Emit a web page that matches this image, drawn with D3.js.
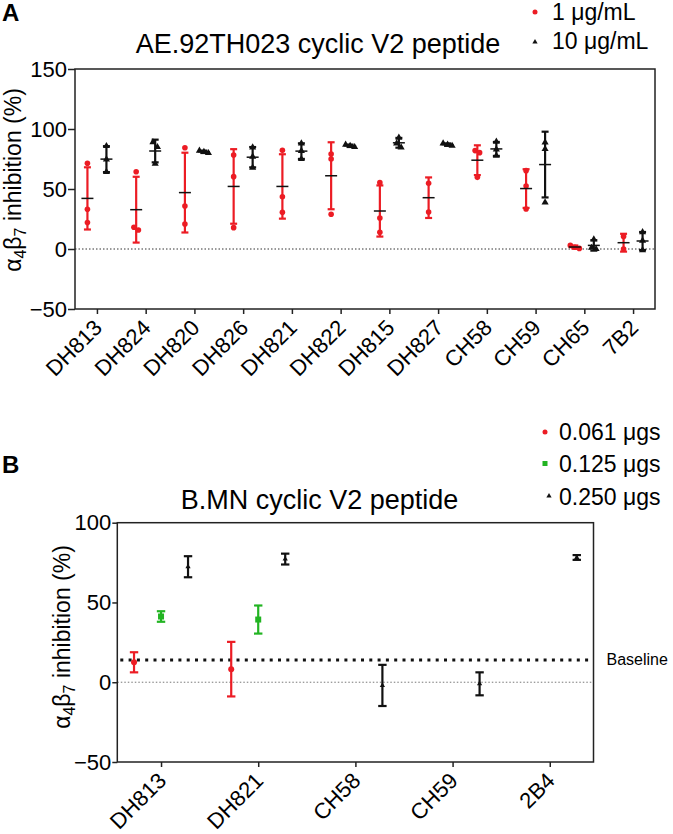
<!DOCTYPE html>
<html><head><meta charset="utf-8">
<script src="https://cdn.jsdelivr.net/npm/d3@7"></script>
<style>
body{margin:0;background:#fff}
svg{display:block}
text{font-family:"Liberation Sans",Arial,Helvetica,sans-serif;fill:#000}
</style>
</head><body>
<svg id="c" width="673" height="834"></svg>
<script>
// ---------- Panel A data ----------
const categoriesA = ["DH813","DH824","DH820","DH826","DH821","DH822","DH815","DH827","CH58","CH59","CH65","7B2"];
const seriesA_1ug = [
  [71.4, 33.1, 22.0],
  [64.4, 18.1, 15.8],
  [84.4, 35.8, 20.8],
  [78.3, 60.3, 17.8],
  [82.2, 43.6, 30.6],
  [79.2, 75.0, 28.9],
  [55.3, 25.8, 13.9],
  [54.7, 30.8],
  [82.0, 80.3, 59.7],
  [65.3, 52.5, 33.3],
  [3.0, 1.5, 0.5],
  [10.5, 0.0]
];
const seriesA_10ug = [
  [85.8, 74.7, 64.2],
  [89.0, 85.0, 71.0],
  [82.0, 81.0, 80.0],
  [84.7, 77.0, 67.8],
  [88.0, 81.7, 75.0],
  [87.0, 86.0, 85.0],
  [92.8, 88.0, 84.7],
  [88.0, 87.0, 86.0],
  [89.4, 83.0, 77.8],
  [88.9, 83.3, 38.9],
  [8.0, 1.0, 0.0],
  [14.0, 7.0, -1.0]
];
const ticksA = [-50, 0, 50, 100, 150];
const legendA = ["1 μg/mL", "10 μg/mL"];

// ---------- Panel B data ----------
const categoriesB = ["DH813","DH821","CH58","CH59","2B4"];
const meanB_061 = [12.5, 8.2, null, null, null];
const errB_061  = [6.3, 17.1, null, null, null];
const meanB_125 = [41.2, 39.3, null, null, null];
const errB_125  = [3.3, 8.8, null, null, null];
const meanB_250 = [72.4, 77.2, -2.0, -1.0, 78.2];
const errB_250  = [6.6, 3.4, 12.9, 7.2, 1.5];
const ticksB = [-50, 0, 50, 100];
const baselineB = 14;
const legendB = ["0.061 μgs", "0.125 μgs", "0.250 μgs"];

const RED = "#ec1c24", GREEN = "#22b422", BLACK = "#111";
const svg = d3.select("#c");

function yLabel(g, x, y) {
  const t = g.append("text").attr("transform", `translate(${x},${y}) rotate(-90)`)
    .attr("text-anchor", "middle").style("font-size", "23px");
  t.append("tspan").text("α");
  t.append("tspan").attr("dy", 5).style("font-size", "16px").text("4");
  t.append("tspan").attr("dy", -5).text("β");
  t.append("tspan").attr("dy", 5).style("font-size", "16px").text("7");
  t.append("tspan").attr("dy", -5).text(" inhibition (%)");
}

function frame(g, x0, x1, y0, y1) {
  g.append("rect").attr("x", x0).attr("y", y0).attr("width", x1 - x0).attr("height", y1 - y0)
    .attr("fill", "none").attr("stroke", "#222").attr("stroke-width", 1.5);
}

// ================= PANEL A =================
(function(){
  const L = 75, R = 655, T = 69, B = 309;
  const x = d3.scalePoint().domain(categoriesA).range([L, R]).padding(0.45);
  const y = d3.scaleLinear().domain([-50, 150]).range([B, T]);
  const g = svg.append("g");

  // zero dotted line
  g.append("line").attr("x1", L).attr("x2", R).attr("y1", y(0)).attr("y2", y(0))
    .attr("stroke", "#333").attr("stroke-width", 1).attr("stroke-dasharray", "1.5,2");

  frame(g, L, R, T, B);

  const ya = g.append("g").attr("transform", `translate(${L},0)`)
    .call(d3.axisLeft(y).tickValues(ticksA).tickSize(7).tickSizeOuter(0).tickPadding(1));
  ya.select(".domain").remove();
  ya.selectAll("line").attr("stroke", "#222").attr("stroke-width", 1.5);
  ya.selectAll("text").style("font-size", "22px").attr("font-family", null);

  const xa = g.append("g").attr("transform", `translate(0,${B})`)
    .call(d3.axisBottom(x).tickSize(5).tickSizeOuter(0));
  xa.select(".domain").remove();
  xa.selectAll("line").attr("stroke", "#222").attr("stroke-width", 1.5);
  xa.selectAll("text").style("font-size", "22px").attr("font-family", null)
    .attr("text-anchor", "end").attr("y", 0).attr("dy", 0)
    .attr("transform", "translate(6,20) rotate(-45)");

  const off = 9.5;
  const groups = [
    {data: seriesA_1ug, color: RED, dx: -off, shape: "circle"},
    {data: seriesA_10ug, color: BLACK, dx: off, shape: "triangle"}
  ];
  const tri = d3.symbol().type(d3.symbolTriangle).size(22);
  groups.forEach(s => {
    s.data.forEach((vals, i) => {
      const cx = x(categoriesA[i]) + s.dx;
      const m = d3.mean(vals), sd = d3.deviation(vals);
      // error bar
      g.append("line").attr("x1", cx).attr("x2", cx).attr("y1", y(m - sd)).attr("y2", y(m + sd))
        .attr("stroke", s.color).attr("stroke-width", 2.2);
      [m - sd, m + sd].forEach(v => g.append("line").attr("x1", cx - 3.5).attr("x2", cx + 3.5)
        .attr("y1", y(v)).attr("y2", y(v)).attr("stroke", s.color).attr("stroke-width", 2.2));
      // points (spread horizontally when overlapping)
      const pts = vals.map(v => ({v, py: y(v)})).sort((a, b) => a.py - b.py);
      let clusters = [], cur = [];
      pts.forEach(p => {
        if (cur.length && p.py - cur[cur.length - 1].py > 5) { clusters.push(cur); cur = []; }
        cur.push(p);
      });
      if (cur.length) clusters.push(cur);
      clusters.forEach(c => c.forEach((p, k) => {
        const px = cx + (k - (c.length - 1) / 2) * 4.5;
        if (s.shape === "circle") {
          g.append("circle").attr("cx", px).attr("cy", p.py).attr("r", 2.8).attr("fill", s.color);
        } else {
          g.append("path").attr("d", tri).attr("transform", `translate(${px},${p.py})`).attr("fill", s.color);
        }
      }));
      // mean line
      g.append("line").attr("x1", cx - 6).attr("x2", cx + 6).attr("y1", y(m)).attr("y2", y(m))
        .attr("stroke", "#111").attr("stroke-width", 1.5);
    });
  });

  // title, labels, legend
  svg.append("text").attr("x", 2).attr("y", 21).style("font-size", "24px").style("font-weight", "bold").text("A");
  svg.append("text").attr("x", 318).attr("y", 53).attr("text-anchor", "middle").style("font-size", "27px")
    .text("AE.92TH023 cyclic V2 peptide");
  yLabel(svg, 21, 180);
  svg.append("circle").attr("cx", 535).attr("cy", 12).attr("r", 2.5).attr("fill", RED);
  svg.append("text").attr("x", 552).attr("y", 19.5).style("font-size", "23px").text(legendA[0]);
  svg.append("path").attr("d", d3.symbol().type(d3.symbolTriangle).size(12)).attr("transform", "translate(535,42)").attr("fill", BLACK);
  svg.append("text").attr("x", 552).attr("y", 48.5).style("font-size", "23px").text(legendA[1]);
})();

// ================= PANEL B =================
(function(){
  const L = 117.3, R = 593.5, T = 522.7, B = 762;
  const x = d3.scalePoint().domain(categoriesB).range([L, R]).padding(0.45);
  const y = d3.scaleLinear().domain([-50, 100]).range([B, T]);
  const g = svg.append("g");

  g.append("line").attr("x1", L).attr("x2", R).attr("y1", y(0)).attr("y2", y(0))
    .attr("stroke", "#777").attr("stroke-width", 1).attr("stroke-dasharray", "1.5,2");
  g.append("line").attr("x1", L + 3).attr("x2", R).attr("y1", y(baselineB)).attr("y2", y(baselineB))
    .attr("stroke", "#111").attr("stroke-width", 3).attr("stroke-dasharray", "3,5.3");

  frame(g, L, R, T, B);

  const ya = g.append("g").attr("transform", `translate(${L},0)`)
    .call(d3.axisLeft(y).tickValues(ticksB).tickSize(5).tickSizeOuter(0).tickPadding(1));
  ya.select(".domain").remove();
  ya.selectAll("line").attr("stroke", "#222").attr("stroke-width", 1.5);
  ya.selectAll("text").style("font-size", "22px").attr("font-family", null);

  const xa = g.append("g").attr("transform", `translate(0,${B})`)
    .call(d3.axisBottom(x).tickSize(5).tickSizeOuter(0));
  xa.select(".domain").remove();
  xa.selectAll("line").attr("stroke", "#222").attr("stroke-width", 1.5);
  xa.selectAll("text").style("font-size", "22px").attr("font-family", null)
    .attr("text-anchor", "end").attr("y", 0).attr("dy", 0)
    .attr("transform", "translate(6,20) rotate(-45)");

  const off = 27;
  const series = [
    {m: meanB_061, e: errB_061, color: RED, dx: -off, shape: "circle"},
    {m: meanB_125, e: errB_125, color: GREEN, dx: 0, shape: "square"},
    {m: meanB_250, e: errB_250, color: BLACK, dx: off, shape: "triangle"}
  ];
  series.forEach(s => {
    s.m.forEach((m, i) => {
      if (m == null) return;
      const cx = x(categoriesB[i]) + s.dx, e = s.e[i];
      g.append("line").attr("x1", cx).attr("x2", cx).attr("y1", y(m - e)).attr("y2", y(m + e))
        .attr("stroke", s.color).attr("stroke-width", 2.2);
      [m - e, m + e].forEach(v => g.append("line").attr("x1", cx - 4.2).attr("x2", cx + 4.2)
        .attr("y1", y(v)).attr("y2", y(v)).attr("stroke", s.color).attr("stroke-width", 2.2));
      if (s.shape === "circle") g.append("circle").attr("cx", cx).attr("cy", y(m)).attr("r", 3).attr("fill", s.color);
      else if (s.shape === "square") g.append("rect").attr("x", cx - 3).attr("y", y(m) - 3).attr("width", 6).attr("height", 6).attr("fill", s.color);
      else g.append("path").attr("d", d3.symbol().type(d3.symbolTriangle).size(12)).attr("transform", `translate(${cx},${y(m)})`).attr("fill", s.color);
    });
  });

  svg.append("text").attr("x", 606.5).attr("y", y(baselineB)).attr("dy", "0.35em").style("font-size", "16px").text("Baseline");
  svg.append("text").attr("x", 2).attr("y", 473).style("font-size", "24px").style("font-weight", "bold").text("B");
  svg.append("text").attr("x", 319.5).attr("y", 509).attr("text-anchor", "middle").style("font-size", "27px")
    .text("B.MN cyclic V2 peptide");
  yLabel(svg, 70, 637);
  const lc = [RED, GREEN, BLACK], ly = [440, 471.5, 505];
  svg.append("circle").attr("cx", 545).attr("cy", 432).attr("r", 2.5).attr("fill", RED);
  svg.append("rect").attr("x", 542.5).attr("y", 461).attr("width", 5).attr("height", 5).attr("fill", GREEN);
  svg.append("path").attr("d", d3.symbol().type(d3.symbolTriangle).size(12)).attr("transform", "translate(549,496)").attr("fill", BLACK);
  legendB.forEach((t, i) => svg.append("text").attr("x", 559).attr("y", ly[i]).style("font-size", "23px").text(t));
})();
</script>
</body></html>
